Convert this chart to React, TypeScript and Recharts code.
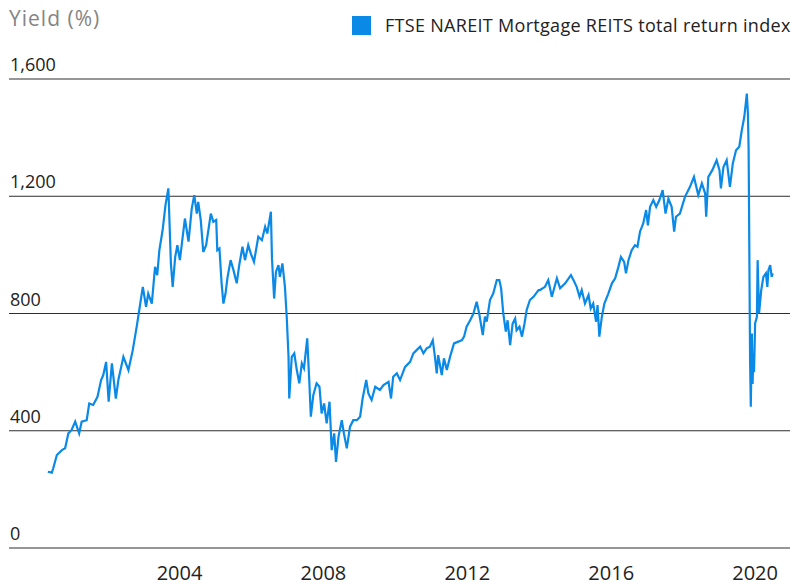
import React from "react";
import {
  CartesianGrid,
  Legend,
  Line,
  LineChart,
  XAxis,
  YAxis,
} from "recharts";

const SERIES_NAME = "FTSE NAREIT Mortgage REITS total return index";
const AXIS_TITLE = "Yield (%)";
const X_TICKS = [2004, 2008, 2012, 2016, 2020];
const Y_TICKS = [0, 400, 800, 1200, 1600];

// fractional year
const years = [
  2000.34, 2000.45, 2000.49, 2000.59, 2000.73, 2000.82, 2000.91, 2001.0, 2001.1, 2001.21,
  2001.28, 2001.42, 2001.49, 2001.6, 2001.72, 2001.82, 2001.88, 2001.96, 2002.03, 2002.12,
  2002.23, 2002.3, 2002.44, 2002.58, 2002.7, 2002.81, 2002.88, 2002.98, 2003.07, 2003.13,
  2003.23, 2003.32, 2003.38, 2003.44, 2003.53, 2003.61, 2003.69, 2003.76, 2003.81, 2003.88,
  2003.94, 2004.01, 2004.15, 2004.25, 2004.34, 2004.41, 2004.48, 2004.52, 2004.59, 2004.66,
  2004.74, 2004.87, 2004.94, 2005.02, 2005.05, 2005.11, 2005.17, 2005.22, 2005.28, 2005.33,
  2005.42, 2005.5, 2005.59, 2005.66, 2005.75, 2005.82, 2005.91, 2005.98, 2006.07, 2006.19,
  2006.29, 2006.38, 2006.44, 2006.54, 2006.57, 2006.63, 2006.68, 2006.75, 2006.79, 2006.86,
  2006.93, 2006.98, 2007.03, 2007.05, 2007.12, 2007.19, 2007.26, 2007.33, 2007.4, 2007.46,
  2007.55, 2007.61, 2007.65, 2007.72, 2007.81, 2007.89, 2007.95, 2008.02, 2008.09, 2008.17,
  2008.23, 2008.3, 2008.35, 2008.42, 2008.51, 2008.57, 2008.65, 2008.74, 2008.83, 2008.93,
  2009.02, 2009.09, 2009.19, 2009.25, 2009.34, 2009.44, 2009.57, 2009.67, 2009.81, 2009.88,
  2009.94, 2010.04, 2010.13, 2010.27, 2010.41, 2010.5, 2010.59, 2010.69, 2010.78, 2010.87,
  2010.96, 2011.04, 2011.1, 2011.15, 2011.19, 2011.29, 2011.35, 2011.43, 2011.52, 2011.63,
  2011.75, 2011.85, 2011.91, 2011.98, 2012.08, 2012.17, 2012.26, 2012.33, 2012.43, 2012.49,
  2012.54, 2012.63, 2012.72, 2012.82, 2012.89, 2012.94, 2013.0, 2013.07, 2013.12, 2013.19,
  2013.26, 2013.33, 2013.37, 2013.45, 2013.52, 2013.59, 2013.65, 2013.74, 2013.84, 2013.98,
  2014.02, 2014.16, 2014.25, 2014.35, 2014.49, 2014.58, 2014.72, 2014.88, 2014.95, 2015.04,
  2015.12, 2015.18, 2015.27, 2015.37, 2015.43, 2015.5, 2015.58, 2015.62, 2015.67, 2015.74,
  2015.81, 2015.92, 2016.02, 2016.11, 2016.2, 2016.27, 2016.36, 2016.41, 2016.48, 2016.57,
  2016.66, 2016.73, 2016.8, 2016.89, 2016.97, 2017.02, 2017.08, 2017.17, 2017.25, 2017.34,
  2017.43, 2017.51, 2017.59, 2017.68, 2017.75, 2017.8, 2017.91, 2018.05, 2018.19, 2018.3,
  2018.42, 2018.52, 2018.61, 2018.64, 2018.7, 2018.81, 2018.93, 2019.01, 2019.05, 2019.12,
  2019.21, 2019.3, 2019.38, 2019.47, 2019.56, 2019.63, 2019.7, 2019.77, 2019.8, 2019.82,
  2019.84, 2019.86, 2019.88, 2019.91, 2019.93, 2019.95, 2019.97, 2020.0, 2020.05, 2020.07,
  2020.11, 2020.17, 2020.23, 2020.3, 2020.34, 2020.37, 2020.42, 2020.46, 2020.49,
];

const values = [
  260, 257, 272, 317, 334, 340, 391, 403, 431, 391,
  431, 436, 493, 488, 516, 573, 590, 635, 499, 630,
  510, 573, 652, 607, 675, 755, 811, 891, 823, 868,
  834, 959, 931, 1016, 1084, 1170, 1227, 971, 891, 993,
  1033, 982, 1124, 1045, 1158, 1204, 1141, 1181, 1119, 1010,
  1033, 1141, 1113, 1119, 1016, 1022, 903, 834, 869, 920,
  982, 948, 903, 965, 1028, 982, 1033, 1005, 976, 1062,
  1050, 1096, 1073, 1147, 988, 851, 942, 965, 925, 971,
  891, 789, 652, 510, 652, 664, 607, 562, 630, 613,
  715, 562, 448, 522, 562, 550, 459, 493, 425, 499,
  334, 391, 294, 380, 436, 391, 340, 414, 436, 436,
  448, 510, 573, 527, 505, 550, 539, 556, 567, 510,
  584, 596, 573, 618, 635, 664, 675, 687, 664, 681,
  687, 709, 652, 596, 658, 590, 647, 607, 652, 698,
  704, 709, 721, 755, 777, 800, 840, 800, 726, 789,
  772, 846, 868, 914, 914, 886, 800, 738, 777, 692,
  766, 783, 743, 755, 721, 766, 812, 846, 857, 880,
  880, 891, 914, 857, 920, 886, 903, 931, 914, 891,
  857, 880, 834, 863, 817, 834, 772, 829, 721, 789,
  834, 868, 903, 920, 959, 993, 976, 937, 982, 1016,
  1033, 1028, 1079, 1107, 1153, 1101, 1164, 1187, 1164, 1187,
  1221, 1141, 1192, 1164, 1079, 1130, 1141, 1198, 1232, 1266,
  1204, 1244, 1210, 1130, 1266, 1289, 1323, 1289, 1227, 1300,
  1323, 1232, 1312, 1357, 1369, 1425, 1471, 1550, 1482, 1357,
  1005, 641, 482, 732, 560, 664, 600, 766, 789, 982,
  800, 880, 925, 937, 891, 948, 965, 925, 937,
];

const data = years.map((t, i) => ({ t, v: values[i] }));

const FONT = "'Open Sans', sans-serif";

function XTick({ x, y, payload }: any) {
  return (
    <text x={x} y={y + 32} textAnchor="middle" fill="#222" fontSize={20} fontFamily={FONT}>
      {payload.value}
    </text>
  );
}

function YTick({ x, y, payload }: any) {
  return (
    <text x={x + 1} y={y - 8} textAnchor="start" fill="#222" fontSize={18} fontFamily={FONT}>
      {Number(payload.value).toLocaleString("en-US")}
    </text>
  );
}

function LegendContent({ payload }: any) {
  return (
    <div
      style={{
        display: "flex",
        alignItems: "center",
        fontFamily: FONT,
        fontSize: 18,
        letterSpacing: 0.3,
        color: "#222",
      }}
    >
      {(payload ?? []).map((p: any) => (
        <span key={p.value} style={{ display: "flex", alignItems: "center", whiteSpace: "nowrap" }}>
          <span style={{ width: 19, height: 19, background: p.color, marginRight: 14, display: "inline-block" }} />
          {p.value}
        </span>
      ))}
    </div>
  );
}

export default function App() {
  return (
    <div style={{ position: "absolute", left: 0, top: 0, width: 798, height: 584, background: "#fff", fontFamily: FONT }}>
      <div
        style={{
          position: "absolute",
          left: 9,
          top: 4,
          fontSize: 21,
          letterSpacing: 1,
          color: "#858585",
          lineHeight: "28px",
        }}
      >
        {AXIS_TITLE}
      </div>
      <LineChart width={798} height={584} data={data} margin={{ top: 79, right: 8, left: 8, bottom: 6 }}>
        <CartesianGrid vertical={false} stroke="#2e2e2e" strokeWidth={1} />
        <XAxis
          dataKey="t"
          type="number"
          domain={[1999.26, 2020.97]}
          ticks={X_TICKS}
          allowDataOverflow
          axisLine={false}
          tickLine={false}
          tickSize={0}
          tickMargin={0}
          height={30}
          interval={0}
          tick={<XTick />}
        />
        <YAxis
          domain={[0, 1600]}
          ticks={Y_TICKS}
          width={1}
          axisLine={false}
          tickLine={false}
          tickSize={0}
          tickMargin={0}
          interval={0}
          tick={<YTick />}
        />
        <Legend
          layout="vertical"
          align="center"
          verticalAlign="middle"
          wrapperStyle={{ top: 13, left: 352, width: "auto", height: "auto" }}
          content={<LegendContent />}
        />
        <Line
          type="linear"
          dataKey="v"
          name={SERIES_NAME}
          stroke="#0a8ae6"
          strokeWidth={2.2}
          dot={false}
          isAnimationActive={false}
        />
      </LineChart>
    </div>
  );
}
